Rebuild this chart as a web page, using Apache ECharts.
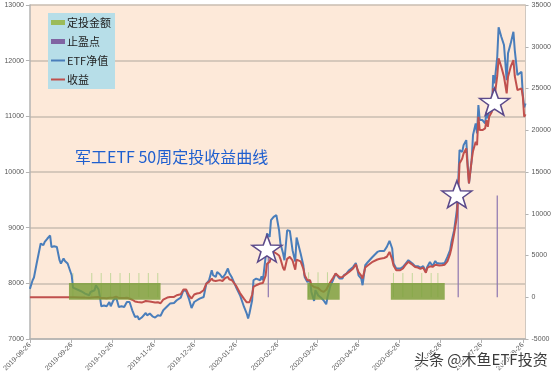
<!DOCTYPE html>
<html><head><meta charset="utf-8">
<script src="https://cdn.jsdelivr.net/npm/echarts@6/dist/echarts.min.js"></script>
<style>html,body{margin:0;padding:0;background:#fff}#c{width:554px;height:380px}</style>
</head><body><div id="c"></div>
<script>
// ---- data ----
const dates = [
'2019-08-26','2019-08-28','2019-08-29','2019-08-31','2019-09-03','2019-09-04','2019-09-05','2019-09-06','2019-09-08','2019-09-10',
'2019-09-11','2019-09-13','2019-09-15','2019-09-16','2019-09-17','2019-09-18','2019-09-20','2019-09-21','2019-09-23','2019-09-24',
'2019-09-26','2019-09-27','2019-09-28','2019-10-03','2019-10-06','2019-10-09','2019-10-10','2019-10-13','2019-10-14','2019-10-16',
'2019-10-17','2019-10-18','2019-10-20','2019-10-22','2019-10-24','2019-10-25','2019-10-27','2019-10-29','2019-10-30','2019-10-31',
'2019-11-02','2019-11-04','2019-11-06','2019-11-08','2019-11-10','2019-11-12','2019-11-14','2019-11-15','2019-11-17','2019-11-18',
'2019-11-20','2019-11-21','2019-11-23','2019-11-25','2019-11-27','2019-11-29','2019-12-01','2019-12-03','2019-12-06','2019-12-08',
'2019-12-11','2019-12-13','2019-12-16','2019-12-18','2019-12-20','2019-12-22','2019-12-24','2019-12-26','2019-12-28','2019-12-30',
'2020-01-02','2020-01-04','2020-01-06','2020-01-08','2020-01-09','2020-01-11','2020-01-12','2020-01-14','2020-01-16','2020-01-18',
'2020-01-20','2020-01-21','2020-01-23','2020-01-26','2020-01-29','2020-02-01','2020-02-03','2020-02-04','2020-02-05','2020-02-07',
'2020-02-08','2020-02-10','2020-02-11','2020-02-13','2020-02-14','2020-02-15','2020-02-17','2020-02-18','2020-02-20','2020-02-21',
'2020-02-23','2020-02-25','2020-02-27','2020-02-28','2020-03-01','2020-03-02','2020-03-04','2020-03-06','2020-03-08','2020-03-10',
'2020-03-11','2020-03-12','2020-03-14','2020-03-16','2020-03-17','2020-03-19','2020-03-21','2020-03-22','2020-03-24','2020-03-25',
'2020-03-27','2020-03-29','2020-03-31','2020-04-02','2020-04-03','2020-04-05','2020-04-07','2020-04-09','2020-04-10','2020-04-12',
'2020-04-14','2020-04-15','2020-04-17','2020-04-19','2020-04-22','2020-04-24','2020-04-25','2020-04-26','2020-04-28','2020-04-29',
'2020-05-01','2020-05-03','2020-05-06','2020-05-10','2020-05-12','2020-05-15','2020-05-17','2020-05-19','2020-05-21','2020-05-22',
'2020-05-24','2020-05-25','2020-05-27','2020-05-29','2020-05-31','2020-06-02','2020-06-03','2020-06-05','2020-06-07','2020-06-09',
'2020-06-11','2020-06-13','2020-06-15','2020-06-16','2020-06-18','2020-06-20','2020-06-21','2020-06-22','2020-06-23','2020-06-25',
'2020-06-27','2020-06-29','2020-07-01','2020-07-03','2020-07-04','2020-07-06','2020-07-08','2020-07-09','2020-07-10','2020-07-12',
'2020-07-13','2020-07-15','2020-07-16','2020-07-17','2020-07-19','2020-07-20','2020-07-22','2020-07-23','2020-07-24','2020-07-25',
'2020-07-27','2020-07-29','2020-07-30','2020-07-31','2020-08-01','2020-08-03','2020-08-04','2020-08-05','2020-08-07','2020-08-08',
'2020-08-10','2020-08-12','2020-08-14','2020-08-15','2020-08-17','2020-08-19','2020-08-20','2020-08-22','2020-08-23','2020-08-25',
'2020-08-26','2020-08-27','2020-08-28'
];
const etfNav = [
7900,8055,8104,8356,8715,8726,8685,8744,8805,8859,
8654,8667,8654,8643,8415,8356,8446,8402,8356,8325,
8145,7924,7906,7858,7816,7786,7845,7876,7966,7888,
7755,7588,7601,7588,7665,7588,7696,7744,7665,7575,
7588,7575,7665,7665,7516,7396,7408,7349,7385,7367,
7467,7426,7457,7408,7385,7426,7415,7516,7588,7636,
7647,7696,7744,7876,7863,7726,7557,7665,7696,7726,
7755,7996,8055,8235,8145,8115,8205,8163,8097,8163,
8266,8187,8104,7935,7786,7575,7457,7367,7457,7696,
8055,8086,8115,8055,8127,8055,8474,8895,8834,9134,
9194,9224,8954,8715,8536,8415,8954,8942,8595,8390,
8823,8834,8536,8325,8115,8025,8055,7845,7683,7876,
7786,7744,7696,7624,7755,7948,8055,8176,8205,8086,
8086,8145,8176,8235,8295,8366,8266,8145,8086,7966,
8325,8384,8464,8564,8582,8582,8654,8762,8625,8356,
8266,8235,8266,8295,8356,8415,8446,8356,8307,8307,
8280,8310,8205,8295,8384,8307,8356,8402,8366,8356,
8356,8366,8474,8595,8744,8954,9314,9818,10393,10362,
10483,10573,10154,9794,10213,10663,10873,10693,11202,10932,
10932,10873,11082,10963,11143,11143,11741,11592,12070,12599,
12430,12281,11651,12132,12311,12520,12191,11741,11741,11801,
11382,11161,11230
];
const profit = [
0,0,0,0,0,0,0,0,0,0,
0,0,0,0,0,0,0,0,0,0,
0,0,0,-20,-40,-50,-20,0,60,20,
-40,-100,-100,-120,-60,-120,-30,60,0,-80,
-80,-100,-60,-150,-300,-500,-560,-650,-640,-680,
-450,-400,-500,-560,-620,-600,-720,-276,-36,36,
36,240,360,923,923,240,-156,324,450,500,
839,1642,1850,2242,2000,1954,2158,2050,1950,2300,
2433,2158,2038,1400,500,-200,-600,-839,-600,300,
1235,1438,1550,1642,1750,1714,2600,4000,4231,4831,
5430,5238,5000,4600,3500,3236,4600,4831,4400,3300,
4500,4639,4300,3440,2637,2038,2038,1438,1235,1438,
1100,800,635,900,1100,1800,2300,2841,2913,2400,
2433,2550,2800,3033,3440,3956,3440,3000,2600,2242,
3560,3836,4200,4519,4600,4700,4850,5430,4500,3800,
3236,3153,3236,3440,3900,4231,4100,3900,3632,3560,
3400,3540,2940,3500,3700,3640,3800,3900,3850,3800,
3836,3900,4300,5200,5900,7636,9600,12500,16000,16625,
17225,17824,15618,13629,16421,17500,18615,18219,21612,20017,
20017,20221,21217,20413,21612,22211,25017,24010,26500,28613,
27606,26408,24418,26408,27606,28409,26500,24810,24900,25017,
24010,21612,21900
];
// weekly investment dates (thin marks) and amounts
const investDates = ['2019-09-27','2019-10-11','2019-10-18','2019-10-25','2019-11-01','2019-11-08','2019-11-15','2019-11-22','2019-11-29',
  '2020-03-20','2020-03-27','2020-04-03',
  '2020-05-22','2020-05-29','2020-06-05','2020-06-12','2020-06-19','2020-06-24'];
const investAmount = [2900,2900,2900,2900,2900,2900,2900,2900,2900, 3000,3000,3000, 2900,2900,2900,2900,2900,2900];
// investment periods (blocks)
const blockStart = ['2019-09-24','2020-03-19','2020-05-20'];
const blockEnd   = ['2019-12-01','2020-04-12','2020-06-29'];
const blockLow   = [-300,-300,-300];
const blockHigh  = [1700,1700,1700];
// take-profit points
const stopDates  = ['2020-02-19','2020-07-09','2020-08-07'];
const stopValues = [5600,11500,12200];
const starDates  = ['2020-02-18','2020-07-08','2020-08-05'];
const starValues = [8626,9602,11263];
// axes
const xTickDates = ['2019-08-26','2019-09-26','2019-10-26','2019-11-26','2019-12-26','2020-01-26','2020-02-26',
  '2020-03-26','2020-04-26','2020-05-26','2020-06-26','2020-07-26','2020-08-26'];
const xMin = '2019-08-26', xMax = '2020-08-28';

// ---- chart ----
function ts(d){const p=d.split('-').map(Number);return Date.UTC(p[0],p[1]-1,p[2]);}
function pad(n){return (n<10?'0':'')+n;}
function fmt(v){const d=new Date(v);return d.getUTCFullYear()+'-'+pad(d.getUTCMonth()+1)+'-'+pad(d.getUTCDate());}
const STAR='path://M50 0 L61.76 33.82 L97.55 34.55 L69.02 56.18 L79.39 90.45 L50 70 L20.61 90.45 L30.98 56.18 L2.45 34.55 L38.24 33.82 Z';
const LINE_ICON='path://M0 0 H140 V20 H0 Z';
const lblFont='Liberation Sans, Arial, sans-serif';
const cjk='Noto Sans CJK SC, sans-serif';
const xTicks=xTickDates.map(ts);
const plain=v=>String(v);

const chart=echarts.init(document.getElementById('c'),null,{renderer:'canvas'});
chart.setOption({
  animation:false,
  backgroundColor:'#ffffff',
  title:{text:'军工ETF 50周定投收益曲线',left:75,top:149,padding:0,
    textStyle:{fontSize:16,fontWeight:'normal',color:'#1f5fcf',fontFamily:cjk}},
  grid:{left:27,right:28,top:5,bottom:41,show:true,backgroundColor:'#fde9d9',borderWidth:0},
  legend:{
    orient:'vertical',left:48,top:13,padding:[3,4,3,3],itemGap:6,itemWidth:14,itemHeight:5,
    backgroundColor:'#b7dee8',
    textStyle:{fontSize:11,color:'#222',fontFamily:cjk,lineHeight:13,padding:[0,0,0,-3]},
    data:[{name:'定投金额',icon:'rect',itemStyle:{color:'#9bbb59'}},
          {name:'止盈点',icon:'rect',itemStyle:{color:'#8064a2'}},
          {name:'ETF净值',icon:LINE_ICON,itemStyle:{color:'#4a7ebb'}},
          {name:'收益',icon:LINE_ICON,itemStyle:{color:'#c0504d'}}]
  },
  xAxis:{type:'value',min:ts(xMin),max:ts(xMax),
    axisLine:{onZero:false,lineStyle:{color:'#b3b3b3',width:1.5}},
    axisTick:{customValues:xTicks,length:4,lineStyle:{color:'#b3b3b3'}},
    axisLabel:{customValues:xTicks,rotate:45,fontSize:7,color:'#595959',fontFamily:lblFont,margin:5,formatter:fmt},
    splitLine:{show:false}},
  yAxis:[
    {type:'value',min:7000,max:13000,interval:1000,position:'left',
     axisLine:{show:true,lineStyle:{color:'#b3b3b3',width:1.5}},
     axisTick:{show:true,length:4,lineStyle:{color:'#b3b3b3'}},
     axisLabel:{fontSize:7,color:'#595959',fontFamily:lblFont,margin:6,formatter:plain},
     splitLine:{show:true,lineStyle:{color:'#c8bcb0',width:1.5}}},
    {type:'value',min:-5000,max:35000,interval:5000,position:'right',
     axisLine:{show:true,lineStyle:{color:'#d0c8c0',width:1}},
     axisTick:{show:true,length:3,lineStyle:{color:'#b3b3b3'}},
     axisLabel:{fontSize:7,color:'#595959',fontFamily:lblFont,margin:6,formatter:plain},
     splitLine:{show:false}}
  ],
  series:[
    {name:'定投标记',type:'bar',yAxisIndex:1,barWidth:1,barGap:'-100%',z:1,
     itemStyle:{color:'#c4d79b'},
     data:investDates.map((d,i)=>[ts(d),investAmount[i]])},
    {name:'止盈点',type:'bar',yAxisIndex:1,barWidth:1.2,barGap:'-100%',z:1,
     itemStyle:{color:'#8c76b0'},
     data:stopDates.map((d,i)=>[ts(d),stopValues[i]])},
    {name:'ETF净值',type:'line',yAxisIndex:0,symbol:'none',z:2,
     lineStyle:{color:'#4a7ebb',width:2},itemStyle:{color:'#4a7ebb'},
     data:dates.map((d,i)=>[ts(d),etfNav[i]])},
    {name:'收益',type:'line',yAxisIndex:1,symbol:'none',z:3,
     lineStyle:{color:'#c0504d',width:2},itemStyle:{color:'#c0504d'},
     data:dates.map((d,i)=>[ts(d),profit[i]])},
    {name:'定投金额',type:'custom',yAxisIndex:1,z:4,
     itemStyle:{color:'#9bbb59'},
     encode:{x:[0,1],y:[2,3]},
     data:blockStart.map((d,i)=>[ts(d),ts(blockEnd[i]),blockLow[i],blockHigh[i]]),
     renderItem:function(params,api){
       const a=api.coord([api.value(0),api.value(3)]);
       const b=api.coord([api.value(1),api.value(2)]);
       return {type:'rect',shape:{x:a[0],y:a[1],width:b[0]-a[0],height:b[1]-a[1]},
         style:{fill:'rgba(122,158,56,0.82)'}};
     }},
    {name:'止盈标记',type:'scatter',yAxisIndex:0,z:10,symbol:STAR,symbolSize:[30,27],
     itemStyle:{color:'#ffffff',borderColor:'#5c4a8a',borderWidth:1.5,opacity:1},
     data:starDates.map((d,i)=>[ts(d),starValues[i]])}
  ],
  graphic:[{type:'text',left:413,top:351,z:100,
    style:{text:'头条 @木鱼ETF投资',fontSize:15,fill:'#3c3c3c',fontFamily:cjk,stroke:'#ffffff',lineWidth:2}}]
});
</script>
</body></html>
